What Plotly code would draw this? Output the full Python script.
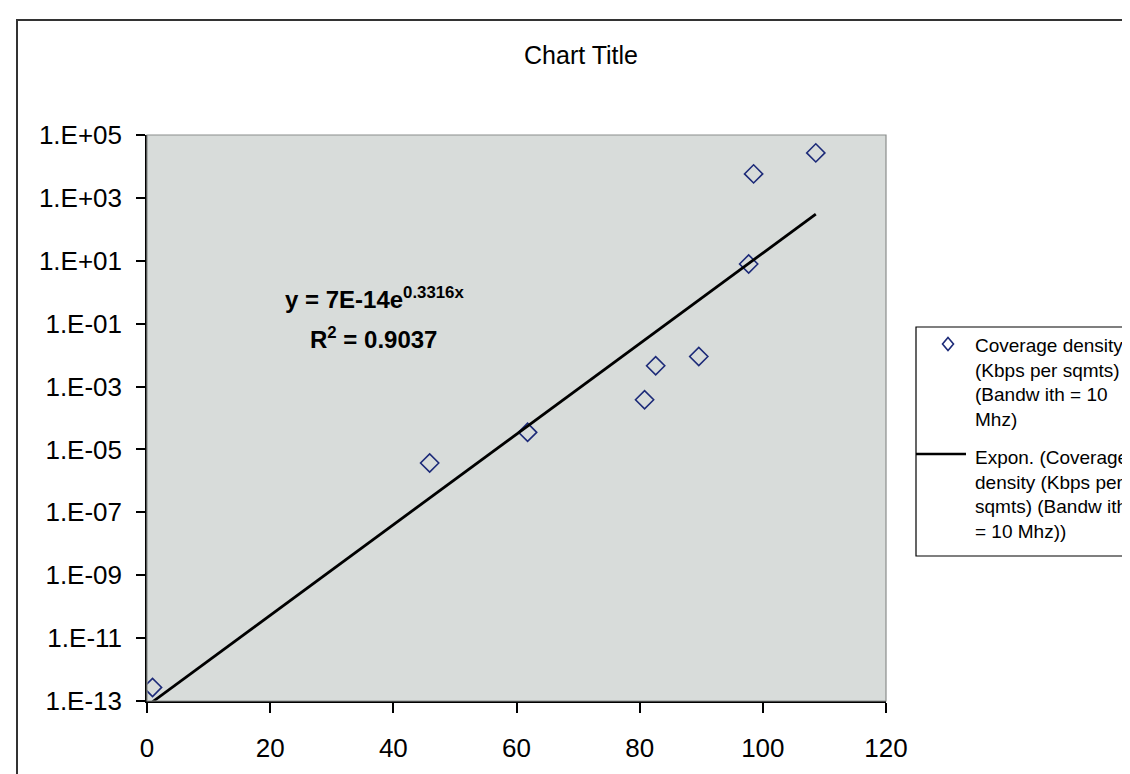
import numpy as np
import plotly.graph_objects as go

# ---- data ----
x_vals = [0.9, 45.9, 61.8, 80.8, 82.6, 89.6, 97.7, 98.5, 108.6]
y_vals = [2.7e-13, 3.7e-6, 3.5e-5, 3.8e-4, 4.6e-3, 9.0e-3, 7.9, 5.8e3, 2.7e4]

fit_coef = [7e-14, 0.3316]   # y = a * exp(b x)
r_squared = 0.9037

y_tickvals = [1e-13, 1e-11, 1e-9, 1e-7, 1e-5, 1e-3, 1e-1, 1e1, 1e3, 1e5]
y_ticktext = ["1.E-13", "1.E-11", "1.E-09", "1.E-07", "1.E-05",
              "1.E-03", "1.E-01", "1.E+01", "1.E+03", "1.E+05"]
x_tickvals = [0, 20, 40, 60, 80, 100, 120]

series_name = "Coverage density<br>(Kbps per sqmts)<br>(Bandw ith = 10<br>Mhz)"
trend_name = "Expon. (Coverage<br>density (Kbps per<br>sqmts) (Bandw ith<br>= 10 Mhz))"

FONT = "Liberation Sans, Arial, sans-serif"
MARK = "#1c2a78"

# layout geometry (pixels)
W, H = 1130, 774
L, R, T, B = 139, 1130 - 878, 127, 774 - 693
pw, ph = W - L - R, H - T - B

def px(x):
    return (x - L) / pw

def py(y):
    return (H - B - y) / ph

tx = np.array([min(x_vals), max(x_vals)])
ty = fit_coef[0] * np.exp(fit_coef[1] * tx)

fig = go.Figure()
fig.add_trace(go.Scatter(
    x=x_vals, y=y_vals, mode="markers", name=series_name,
    marker=dict(symbol="diamond-open", size=14, color=MARK,
                line=dict(width=1.6, color=MARK)),
    showlegend=False,
))
fig.add_trace(go.Scatter(
    x=tx, y=ty, mode="lines", name=trend_name,
    line=dict(color="black", width=2.8),
    showlegend=False,
))

fig.update_layout(
    width=W, height=H,
    margin=dict(l=L, r=R, t=T, b=B, autoexpand=False),
    paper_bgcolor="white",
    plot_bgcolor="#d8dcda",
    font=dict(family=FONT, color="black"),
    title=dict(text="Chart Title", x=573 / W, xanchor="center",
               y=1 - 47 / H, yanchor="middle",
               font=dict(family=FONT, size=25, color="black")),
    xaxis=dict(range=[0, 120], tickvals=x_tickvals, showgrid=False,
               zeroline=False, showline=True, linecolor="black", linewidth=1.5,
               ticks="outside", ticklen=10, tickcolor="black", tickwidth=1.5,
               tickfont=dict(family=FONT, size=26, color="black"),
               ticklabelstandoff=13),
    yaxis=dict(type="log", range=[-13, 5], tickvals=y_tickvals,
               ticktext=y_ticktext, showgrid=False, zeroline=False,
               showline=True, linecolor="black", linewidth=1.5,
               ticks="outside", ticklen=9, tickcolor="black", tickwidth=1.5,
               tickfont=dict(family=FONT, size=26, color="black"),
               ticklabelstandoff=9),
)

# plot-area border (top/right) and outer chart frame
fig.add_shape(type="rect", xref="paper", yref="paper", x0=0, x1=1, y0=0, y1=1,
              line=dict(color="#8a8e8c", width=1.2), layer="above")
fig.add_shape(type="rect", xref="paper", yref="paper",
              x0=px(9), x1=px(1134), y0=py(772), y1=py(12),
              line=dict(color="#333333", width=2), layer="below")

# ---- legend (drawn manually so it does not shrink the plot area) ----
fig.add_shape(type="rect", xref="paper", yref="paper",
              x0=px(908), x1=px(1136), y0=py(548), y1=py(319),
              line=dict(color="black", width=1.2), fillcolor="white")
# diamond symbol
cx, cy, hw, hh = 940, 336, 5.5, 6.5
fig.add_shape(type="path", xref="paper", yref="paper",
              path="M %f %f L %f %f L %f %f L %f %f Z" % (
                  px(cx), py(cy - hh), px(cx + hw), py(cy),
                  px(cx), py(cy + hh), px(cx - hw), py(cy)),
              line=dict(color=MARK, width=1.6))
# trend line sample
fig.add_shape(type="line", xref="paper", yref="paper",
              x0=px(908), x1=px(958), y0=py(446), y1=py(446),
              line=dict(color="black", width=2.5))
fig.add_annotation(xref="paper", yref="paper", x=px(965), y=py(374),
                   text=series_name, showarrow=False, align="left",
                   xanchor="left", yanchor="middle",
                   font=dict(family=FONT, size=19, color="black"))
fig.add_annotation(xref="paper", yref="paper", x=px(965), y=py(486),
                   text=trend_name, showarrow=False, align="left",
                   xanchor="left", yanchor="middle",
                   font=dict(family=FONT, size=19, color="black"))

# trendline equation
fig.add_annotation(xref="paper", yref="paper", x=px(366), y=py(290),
                   text="<b>y = 7E-14e<sup>0.3316x</sup></b>", showarrow=False,
                   font=dict(family=FONT, size=24, color="black"),
                   xanchor="center", yanchor="middle")
fig.add_annotation(xref="paper", yref="paper", x=px(365), y=py(330),
                   text="<b>R<sup>2</sup> = %.4f</b>" % r_squared, showarrow=False,
                   font=dict(family=FONT, size=24, color="black"),
                   xanchor="center", yanchor="middle")

fig.write_html("out.html")
